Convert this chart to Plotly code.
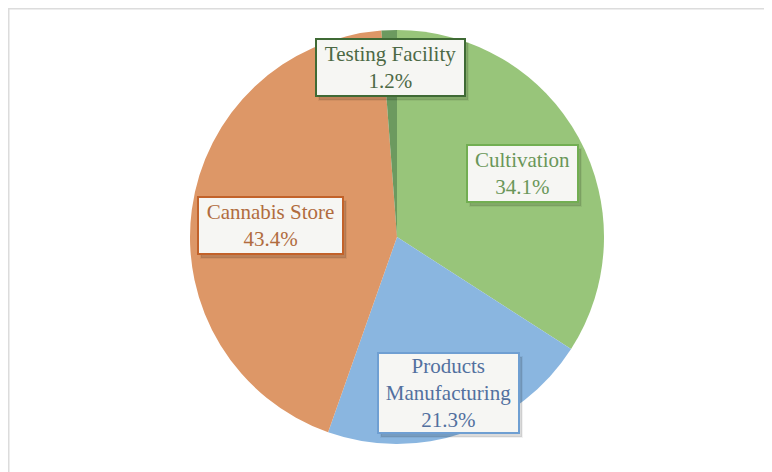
import plotly.graph_objects as go

# slices in clockwise order starting at 12 o'clock
labels = ["Cultivation", "Products Manufacturing", "Cannabis Store", "Testing Facility"]
shares = [34.1, 21.3, 43.4, 1.2]
box_text = ["Cultivation", "Products<br>Manufacturing", "Cannabis Store", "Testing Facility"]

SLICE_COLORS = ["#98c57a", "#8ab6e0", "#dd9767", "#6c9a5f"]
BORDER_COLORS = ["#72ae52", "#6f9fd2", "#c2622a", "#3f6a35"]
TEXT_COLORS = ["#6a9659", "#52709f", "#b16c3e", "#4c6945"]

# page body has an 8px margin, so the figure starts at (8, 8)
W, H = 764, 464
cx, cy, r = 389, 229, 207

# label box centres (paper coords) and box sizes in px
BOX_POS = [(514 / W, 1 - 165 / H), (440 / W, 1 - 385 / H),
           (262 / W, 1 - 217 / H), (382 / W, 1 - 60 / H)]
BOX_SIZE = [(103, 49), (133, 72), (137, 49), (141, 49)]

fig = go.Figure(go.Pie(
    labels=labels, values=shares,
    sort=False, direction="clockwise", rotation=0,
    marker=dict(colors=SLICE_COLORS, line=dict(width=0)),
    textinfo="none", hoverinfo="label+percent",
    domain=dict(x=[(cx - r) / W, (cx + r) / W],
                y=[1 - (cy + r) / H, 1 - (cy - r) / H]),
))

font = "Liberation Serif, Times New Roman, serif"
for name, val, bcol, tcol, (x, y), (bw, bh) in zip(
        box_text, shares, BORDER_COLORS, TEXT_COLORS, BOX_POS, BOX_SIZE):
    common = dict(x=x, y=y, xref="paper", yref="paper", showarrow=False,
                  xanchor="center", yanchor="middle",
                  width=bw, height=bh, borderpad=3, borderwidth=2)
    # soft drop shadow (empty box)
    fig.add_annotation(
        **common, text=" ", xshift=3, yshift=-4,
        bgcolor="rgba(0,0,0,0.14)", bordercolor="rgba(0,0,0,0.05)",
        font=dict(family=font, size=21),
    )
    fig.add_annotation(
        **common, text=f"{name}<br>{val:.1f}%",
        bgcolor="#f6f6f3", bordercolor=bcol,
        font=dict(family=font, size=21, color=tcol),
    )

# light frame on top and left edges
fig.add_shape(type="line", xref="paper", yref="paper", x0=0, x1=1, y0=1, y1=1,
              line=dict(color="#dcdcdc", width=3))
fig.add_shape(type="line", xref="paper", yref="paper", x0=0, x1=0, y0=0, y1=1,
              line=dict(color="#dcdcdc", width=3))

fig.update_layout(
    width=W, height=H,
    margin=dict(l=0, r=0, t=0, b=0),
    paper_bgcolor="white", plot_bgcolor="white",
    showlegend=False,
)

fig.write_html("out.html")
